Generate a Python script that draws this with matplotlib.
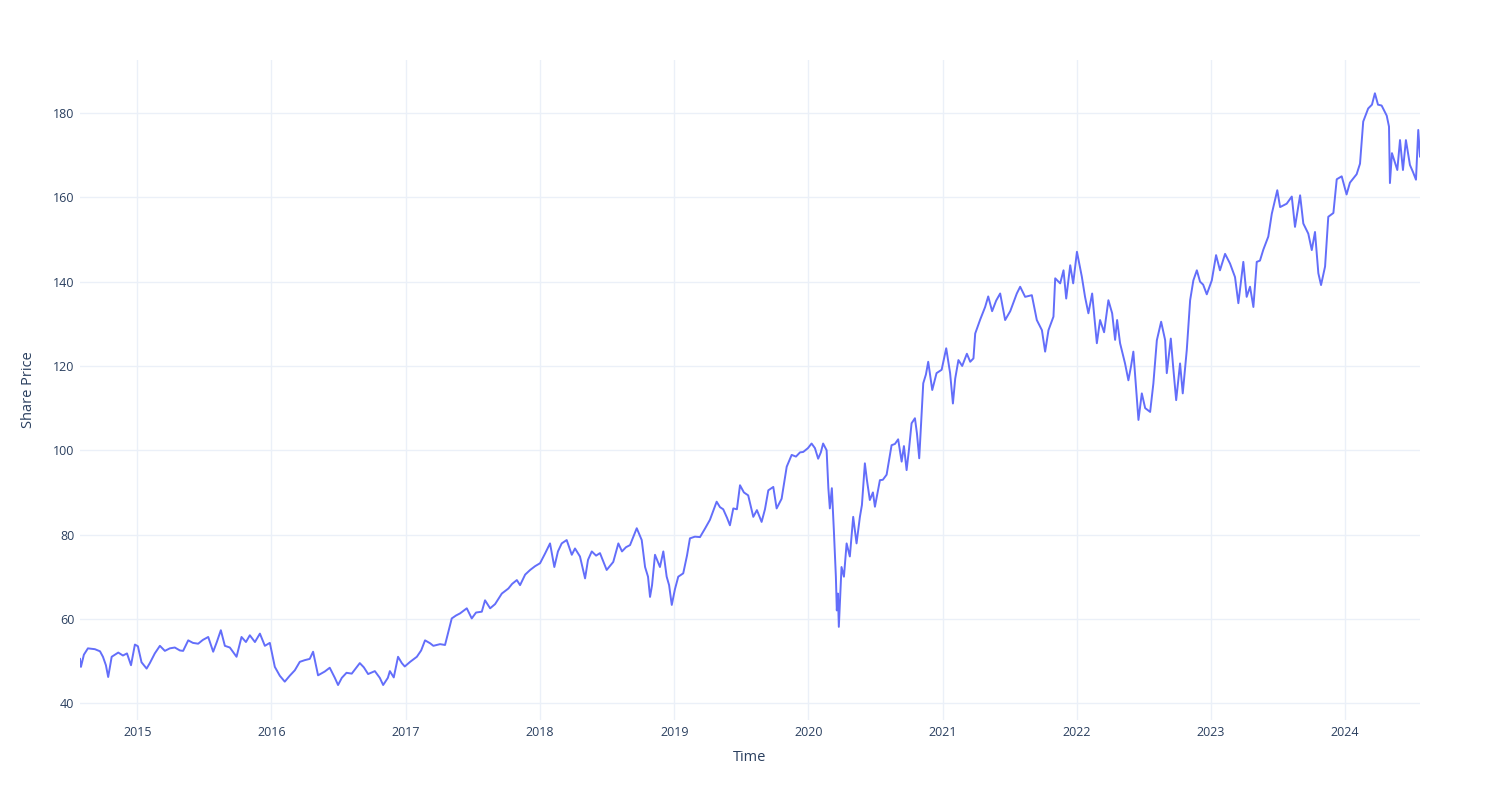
import matplotlib
matplotlib.use("Agg")
import matplotlib.pyplot as plt
import matplotlib.dates as mdates
import pandas as pd

# Dates as decimal years
year_frac = [
    2014.572, 2014.579, 2014.601, 2014.631, 2014.683, 2014.721, 2014.743, 2014.765, 2014.782, 2014.808,
    2014.832, 2014.857, 2014.892, 2014.922, 2014.952, 2014.981, 2015.004, 2015.031, 2015.069, 2015.093,
    2015.130, 2015.168, 2015.205, 2015.242, 2015.279, 2015.317, 2015.341, 2015.379, 2015.414, 2015.453,
    2015.488, 2015.528, 2015.565, 2015.592, 2015.622, 2015.652, 2015.689, 2015.739, 2015.776, 2015.809,
    2015.838, 2015.876, 2015.913, 2015.950, 2015.987, 2016.025, 2016.062, 2016.099, 2016.136, 2016.174,
    2016.211, 2016.248, 2016.285, 2016.310, 2016.347, 2016.397, 2016.434, 2016.472, 2016.496, 2016.524,
    2016.559, 2016.598, 2016.658, 2016.688, 2016.720, 2016.770, 2016.807, 2016.832, 2016.867, 2016.882,
    2016.911, 2016.943, 2016.971, 2016.993, 2017.031, 2017.081, 2017.113, 2017.142, 2017.180, 2017.204,
    2017.254, 2017.291, 2017.341, 2017.373, 2017.403, 2017.453, 2017.490, 2017.522, 2017.565, 2017.589,
    2017.627, 2017.664, 2017.714, 2017.763, 2017.791, 2017.826, 2017.850, 2017.888, 2017.925, 2017.962,
    2017.999, 2018.037, 2018.074, 2018.106, 2018.133, 2018.161, 2018.198, 2018.236, 2018.260, 2018.297,
    2018.335, 2018.357, 2018.385, 2018.417, 2018.446, 2018.496, 2018.545, 2018.583, 2018.610, 2018.640,
    2018.670, 2018.720, 2018.757, 2018.782, 2018.804, 2018.819, 2018.834, 2018.856, 2018.893, 2018.918,
    2018.943, 2018.961, 2018.981, 2019.005, 2019.030, 2019.067, 2019.095, 2019.117, 2019.154, 2019.192,
    2019.229, 2019.266, 2019.316, 2019.341, 2019.365, 2019.393, 2019.415, 2019.440, 2019.467, 2019.490,
    2019.519, 2019.551, 2019.589, 2019.616, 2019.651, 2019.676, 2019.701, 2019.738, 2019.763, 2019.800,
    2019.838, 2019.875, 2019.907, 2019.937, 2019.961, 2019.996, 2020.024, 2020.049, 2020.073, 2020.093,
    2020.110, 2020.136, 2020.149, 2020.160, 2020.175, 2020.190, 2020.205, 2020.212, 2020.220, 2020.227,
    2020.247, 2020.265, 2020.285, 2020.309, 2020.334, 2020.359, 2020.384, 2020.399, 2020.421, 2020.436,
    2020.458, 2020.481, 2020.496, 2020.533, 2020.555, 2020.583, 2020.620, 2020.645, 2020.669, 2020.695,
    2020.712, 2020.732, 2020.749, 2020.769, 2020.794, 2020.809, 2020.826, 2020.856, 2020.876, 2020.893,
    2020.923, 2020.955, 2020.993, 2021.025, 2021.054, 2021.075, 2021.092, 2021.116, 2021.144, 2021.179,
    2021.204, 2021.228, 2021.241, 2021.278, 2021.315, 2021.338, 2021.367, 2021.397, 2021.427, 2021.464,
    2021.502, 2021.551, 2021.576, 2021.613, 2021.663, 2021.700, 2021.738, 2021.762, 2021.787, 2021.824,
    2021.837, 2021.874, 2021.899, 2021.919, 2021.949, 2021.971, 2021.999, 2022.036, 2022.060, 2022.085,
    2022.113, 2022.148, 2022.172, 2022.202, 2022.234, 2022.262, 2022.284, 2022.299, 2022.321, 2022.358,
    2022.383, 2022.403, 2022.420, 2022.440, 2022.458, 2022.483, 2022.508, 2022.545, 2022.569, 2022.595,
    2022.627, 2022.657, 2022.669, 2022.699, 2022.716, 2022.739, 2022.768, 2022.788, 2022.818, 2022.843,
    2022.867, 2022.893, 2022.917, 2022.940, 2022.967, 2023.005, 2023.037, 2023.066, 2023.104, 2023.141,
    2023.178, 2023.203, 2023.240, 2023.265, 2023.290, 2023.315, 2023.340, 2023.364, 2023.389, 2023.426,
    2023.452, 2023.493, 2023.514, 2023.563, 2023.601, 2023.625, 2023.663, 2023.687, 2023.724, 2023.750,
    2023.774, 2023.799, 2023.819, 2023.849, 2023.873, 2023.911, 2023.936, 2023.973, 2024.010, 2024.035,
    2024.085, 2024.110, 2024.134, 2024.171, 2024.199, 2024.221, 2024.244, 2024.271, 2024.309, 2024.326,
    2024.333, 2024.348, 2024.388, 2024.408, 2024.430, 2024.452, 2024.482, 2024.505, 2024.527, 2024.544,
    2024.557,
]

price = [
    50.5, 48.6, 51.5, 53.0, 52.8, 52.3, 51.0, 49.0, 46.2, 51.0,
    51.5, 52.0, 51.3, 51.8, 49.0, 53.9, 53.5, 49.7, 48.2, 49.5,
    51.8, 53.6, 52.4, 53.0, 53.2, 52.5, 52.4, 54.9, 54.3, 54.1,
    55.0, 55.7, 52.2, 54.5, 57.3, 53.6, 53.2, 51.0, 55.7, 54.5,
    56.1, 54.5, 56.5, 53.6, 54.3, 48.6, 46.5, 45.1, 46.5, 47.8,
    49.8, 50.2, 50.5, 52.2, 46.6, 47.5, 48.4, 46.0, 44.3, 46.0,
    47.2, 47.0, 49.5, 48.5, 46.9, 47.6, 46.0, 44.3, 46.0, 47.6,
    46.1, 51.0, 49.5, 48.7, 49.8, 51.0, 52.5, 54.9, 54.2, 53.6,
    54.0, 53.8, 60.1, 60.8, 61.3, 62.5, 60.1, 61.5, 61.7, 64.4,
    62.5, 63.5, 66.0, 67.2, 68.3, 69.2, 68.0, 70.5, 71.6, 72.5,
    73.2, 75.5, 77.9, 72.3, 76.0, 77.9, 78.7, 75.2, 76.7, 74.8,
    69.6, 74.0, 76.0, 75.0, 75.6, 71.6, 73.5, 77.9, 76.0, 77.0,
    77.5, 81.5, 78.7, 72.3, 70.0, 65.2, 68.0, 75.2, 72.3, 76.0,
    70.0, 68.0, 63.3, 67.0, 70.0, 70.8, 75.0, 79.1, 79.5, 79.4,
    81.4, 83.5, 87.8, 86.5, 86.0, 84.0, 82.2, 86.2, 86.0, 91.7,
    90.0, 89.3, 84.2, 85.8, 83.0, 86.0, 90.5, 91.3, 86.2, 88.5,
    96.1, 98.9, 98.5, 99.5, 99.6, 100.5, 101.6, 100.5, 98.0, 99.5,
    101.6, 100.0, 91.0, 86.2, 91.0, 81.0, 70.0, 62.0, 66.0, 58.1,
    72.3, 70.0, 77.9, 74.8, 84.2, 77.9, 84.2, 87.0, 96.9, 93.0,
    88.2, 90.0, 86.6, 92.9, 93.0, 94.2, 101.2, 101.5, 102.6, 97.3,
    101.0, 95.3, 100.0, 106.4, 107.6, 104.0, 98.1, 115.9, 118.0, 121.0,
    114.3, 118.3, 119.1, 124.2, 118.3, 111.1, 117.0, 121.4, 120.0, 122.9,
    121.0, 121.8, 127.7, 131.0, 134.0, 136.5, 133.0, 135.5, 137.2, 130.9,
    133.0, 137.2, 138.8, 136.4, 136.8, 130.9, 128.5, 123.4, 128.5, 131.7,
    140.8, 139.6, 142.7, 136.0, 143.9, 139.6, 147.1, 141.2, 136.4, 132.5,
    137.2, 125.4, 130.9, 128.0, 135.6, 132.5, 126.2, 130.9, 125.4, 120.6,
    116.6, 120.0, 123.4, 115.0, 107.2, 113.5, 110.0, 109.1, 115.8, 126.1,
    130.5, 126.1, 118.3, 126.5, 120.0, 111.9, 120.6, 113.5, 123.8, 135.6,
    140.3, 142.7, 140.0, 139.3, 137.0, 140.3, 146.3, 142.7, 146.6, 144.3,
    141.1, 134.9, 144.7, 136.4, 138.8, 134.0, 144.7, 145.0, 147.6, 150.7,
    156.1, 161.7, 157.7, 158.5, 160.2, 153.0, 160.5, 153.8, 151.4, 147.5,
    151.8, 142.0, 139.2, 143.6, 155.4, 156.3, 164.3, 165.0, 160.7, 163.5,
    165.5, 168.0, 178.0, 181.1, 182.0, 184.7, 182.0, 181.8, 179.4, 176.8,
    163.4, 170.5, 166.5, 173.6, 166.5, 173.6, 167.7, 166.0, 164.2, 176.0,
    169.7,
]

year_ticks = [2015, 2016, 2017, 2018, 2019, 2020, 2021, 2022, 2023, 2024]
price_ticks = [40, 60, 80, 100, 120, 140, 160, 180]


def to_date(y):
    year = int(y)
    return pd.Timestamp(year, 1, 1) + pd.Timedelta(days=(y - year) * 365.25)


dates = [to_date(y) for y in year_frac]

plt.rcParams['font.family'] = ['Open Sans', 'DejaVu Sans']

fig = plt.figure(figsize=(15, 8), dpi=100)
ax = fig.add_axes([80 / 1500, 1 - 720 / 800, 1340 / 1500, 660 / 800])

grid_col = '#ebf0f8'
text_col = '#2a3f5f'

ax.plot(dates, price, color='#636efa', linewidth=1.4, zorder=3)

ax.set_xlim(dates[0], dates[-1])
ax.set_ylim(36.0, 192.6)

ax.set_xticks([pd.Timestamp(y, 1, 1) for y in year_ticks])
ax.xaxis.set_major_formatter(mdates.DateFormatter('%Y'))
ax.set_yticks(price_ticks)

ax.grid(True, color=grid_col, linewidth=1)
ax.set_axisbelow(True)
for s in ax.spines.values():
    s.set_visible(False)

ax.tick_params(axis='both', length=0, labelsize=9, labelcolor=text_col)
ax.tick_params(axis='x', pad=4)
ax.tick_params(axis='y', pad=4)

ax.set_xlabel('Time', fontsize=10.5, color=text_col, labelpad=8)
ax.set_ylabel('Share Price', fontsize=10.5, color=text_col, labelpad=12)

fig.savefig('out.png', dpi=100)
